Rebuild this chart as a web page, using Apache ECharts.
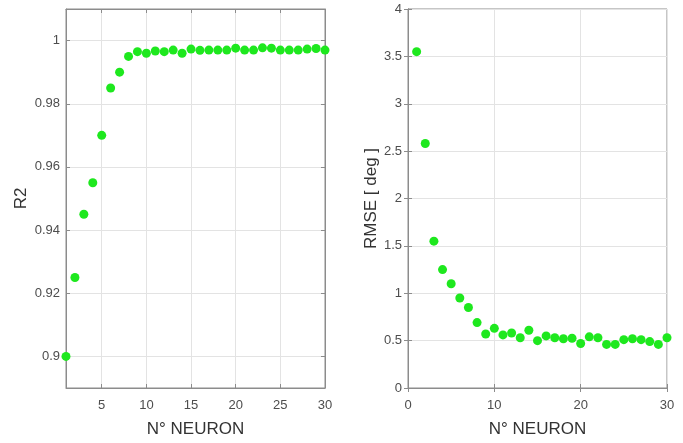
<!DOCTYPE html>
<html><head><meta charset="utf-8">
<script src="https://cdn.jsdelivr.net/npm/echarts@6/dist/echarts.min.js"></script>
<style>html,body{margin:0;padding:0;background:#fff}#c{width:683px;height:443px}</style>
</head><body><div id="c"></div>
<script>
const neurons = [1,2,3,4,5,6,7,8,9,10,11,12,13,14,15,16,17,18,19,20,21,22,23,24,25,26,27,28,29,30];
const r2 = [0.900,0.925,0.945,0.955,0.970,0.985,0.990,0.995,0.9965,0.996,0.9967,0.9965,0.997,0.996,0.9973,0.9969,0.997,0.997,0.997,0.9976,0.997,0.997,0.9977,0.9976,0.997,0.997,0.997,0.9973,0.9975,0.997];
const rmse = [3.55,2.58,1.55,1.25,1.10,0.95,0.85,0.69,0.57,0.63,0.56,0.58,0.53,0.61,0.50,0.55,0.53,0.52,0.525,0.47,0.54,0.53,0.46,0.46,0.51,0.52,0.51,0.49,0.46,0.53];
const r2Ticks = [0.9,0.92,0.94,0.96,0.98,1];
const leftXTicks = [5,10,15,20,25,30];

const font = 'Liberation Sans, Arial, sans-serif';
const lab = {color:'#4d4d4d', fontSize:13, fontFamily:font};
const nameStyle = {color:'#333', fontSize:17, fontFamily:font};
const axLine = {show:true, lineStyle:{color:'#8c8c8c', width:1}};
const split = {show:true, lineStyle:{color:'#e3e3e3', width:1}};
const tick = {show:true, inside:true, length:4, lineStyle:{color:'#8c8c8c'}};
const green = '#1ee81e';
const noLab = {show:false};
const noSplit = {show:false};

const chart = echarts.init(document.getElementById('c'), null, {renderer:'canvas'});
chart.setOption({
  animation:false,
  grid:[
    {left:66, right:358, top:9, bottom:54, show:true, borderColor:'#8c8c8c', borderWidth:1},
    {left:408, right:16, top:9, bottom:53, show:true, borderColor:'#8c8c8c', borderWidth:1}
  ],
  xAxis:[
    {gridIndex:0, type:'value', min:1, max:30, position:'bottom',
     name:'N° NEURON', nameLocation:'middle', nameGap:33, nameTextStyle:nameStyle,
     axisLine:axLine, axisTick:Object.assign({}, tick, {customValues:leftXTicks}),
     axisLabel:Object.assign({}, lab, {margin:11, customValues:leftXTicks}),
     splitLine:split},
    {gridIndex:1, type:'value', min:0, max:30, interval:10, position:'bottom',
     name:'N° NEURON', nameLocation:'middle', nameGap:33, nameTextStyle:nameStyle,
     axisLine:axLine, axisTick:tick, axisLabel:Object.assign({}, lab, {margin:11}),
     splitLine:split},
    {gridIndex:0, type:'value', min:1, max:30, position:'top',
     axisLine:axLine, axisTick:Object.assign({}, tick, {customValues:leftXTicks}),
     axisLabel:noLab, splitLine:noSplit},
    {gridIndex:1, type:'value', min:0, max:30, interval:10, position:'top',
     axisLine:axLine, axisTick:tick, axisLabel:noLab, splitLine:noSplit}
  ],
  yAxis:[
    {gridIndex:0, type:'value', min:0.89, max:1.01, position:'left',
     name:'R2', nameLocation:'middle', nameGap:36, nameTextStyle:nameStyle,
     axisLine:axLine, axisTick:Object.assign({}, tick, {customValues:r2Ticks}),
     axisLabel:Object.assign({}, lab, {margin:6, customValues:r2Ticks, formatter:v=>String(+v.toFixed(2))}),
     splitLine:split},
    {gridIndex:1, type:'value', min:0, max:4, interval:0.5, position:'left',
     name:'RMSE [ deg ]', nameLocation:'middle', nameGap:28, nameTextStyle:nameStyle,
     axisLine:axLine, axisTick:tick, axisLabel:Object.assign({}, lab, {margin:6}),
     splitLine:split},
    {gridIndex:0, type:'value', min:0.89, max:1.01, position:'right',
     axisLine:axLine, axisTick:Object.assign({}, tick, {customValues:r2Ticks}),
     axisLabel:noLab, splitLine:noSplit},
    {gridIndex:1, type:'value', min:0, max:4, interval:0.5, position:'right',
     axisLine:axLine, axisTick:tick, axisLabel:noLab, splitLine:noSplit}
  ],
  series:[
    {type:'scatter', xAxisIndex:0, yAxisIndex:0, symbol:'circle', symbolSize:9,
     itemStyle:{color:green, opacity:1}, data:neurons.map((n,i)=>[n,r2[i]])},
    {type:'scatter', xAxisIndex:1, yAxisIndex:1, symbol:'circle', symbolSize:9,
     itemStyle:{color:green, opacity:1}, data:neurons.map((n,i)=>[n,rmse[i]])}
  ]
});
</script></body></html>
